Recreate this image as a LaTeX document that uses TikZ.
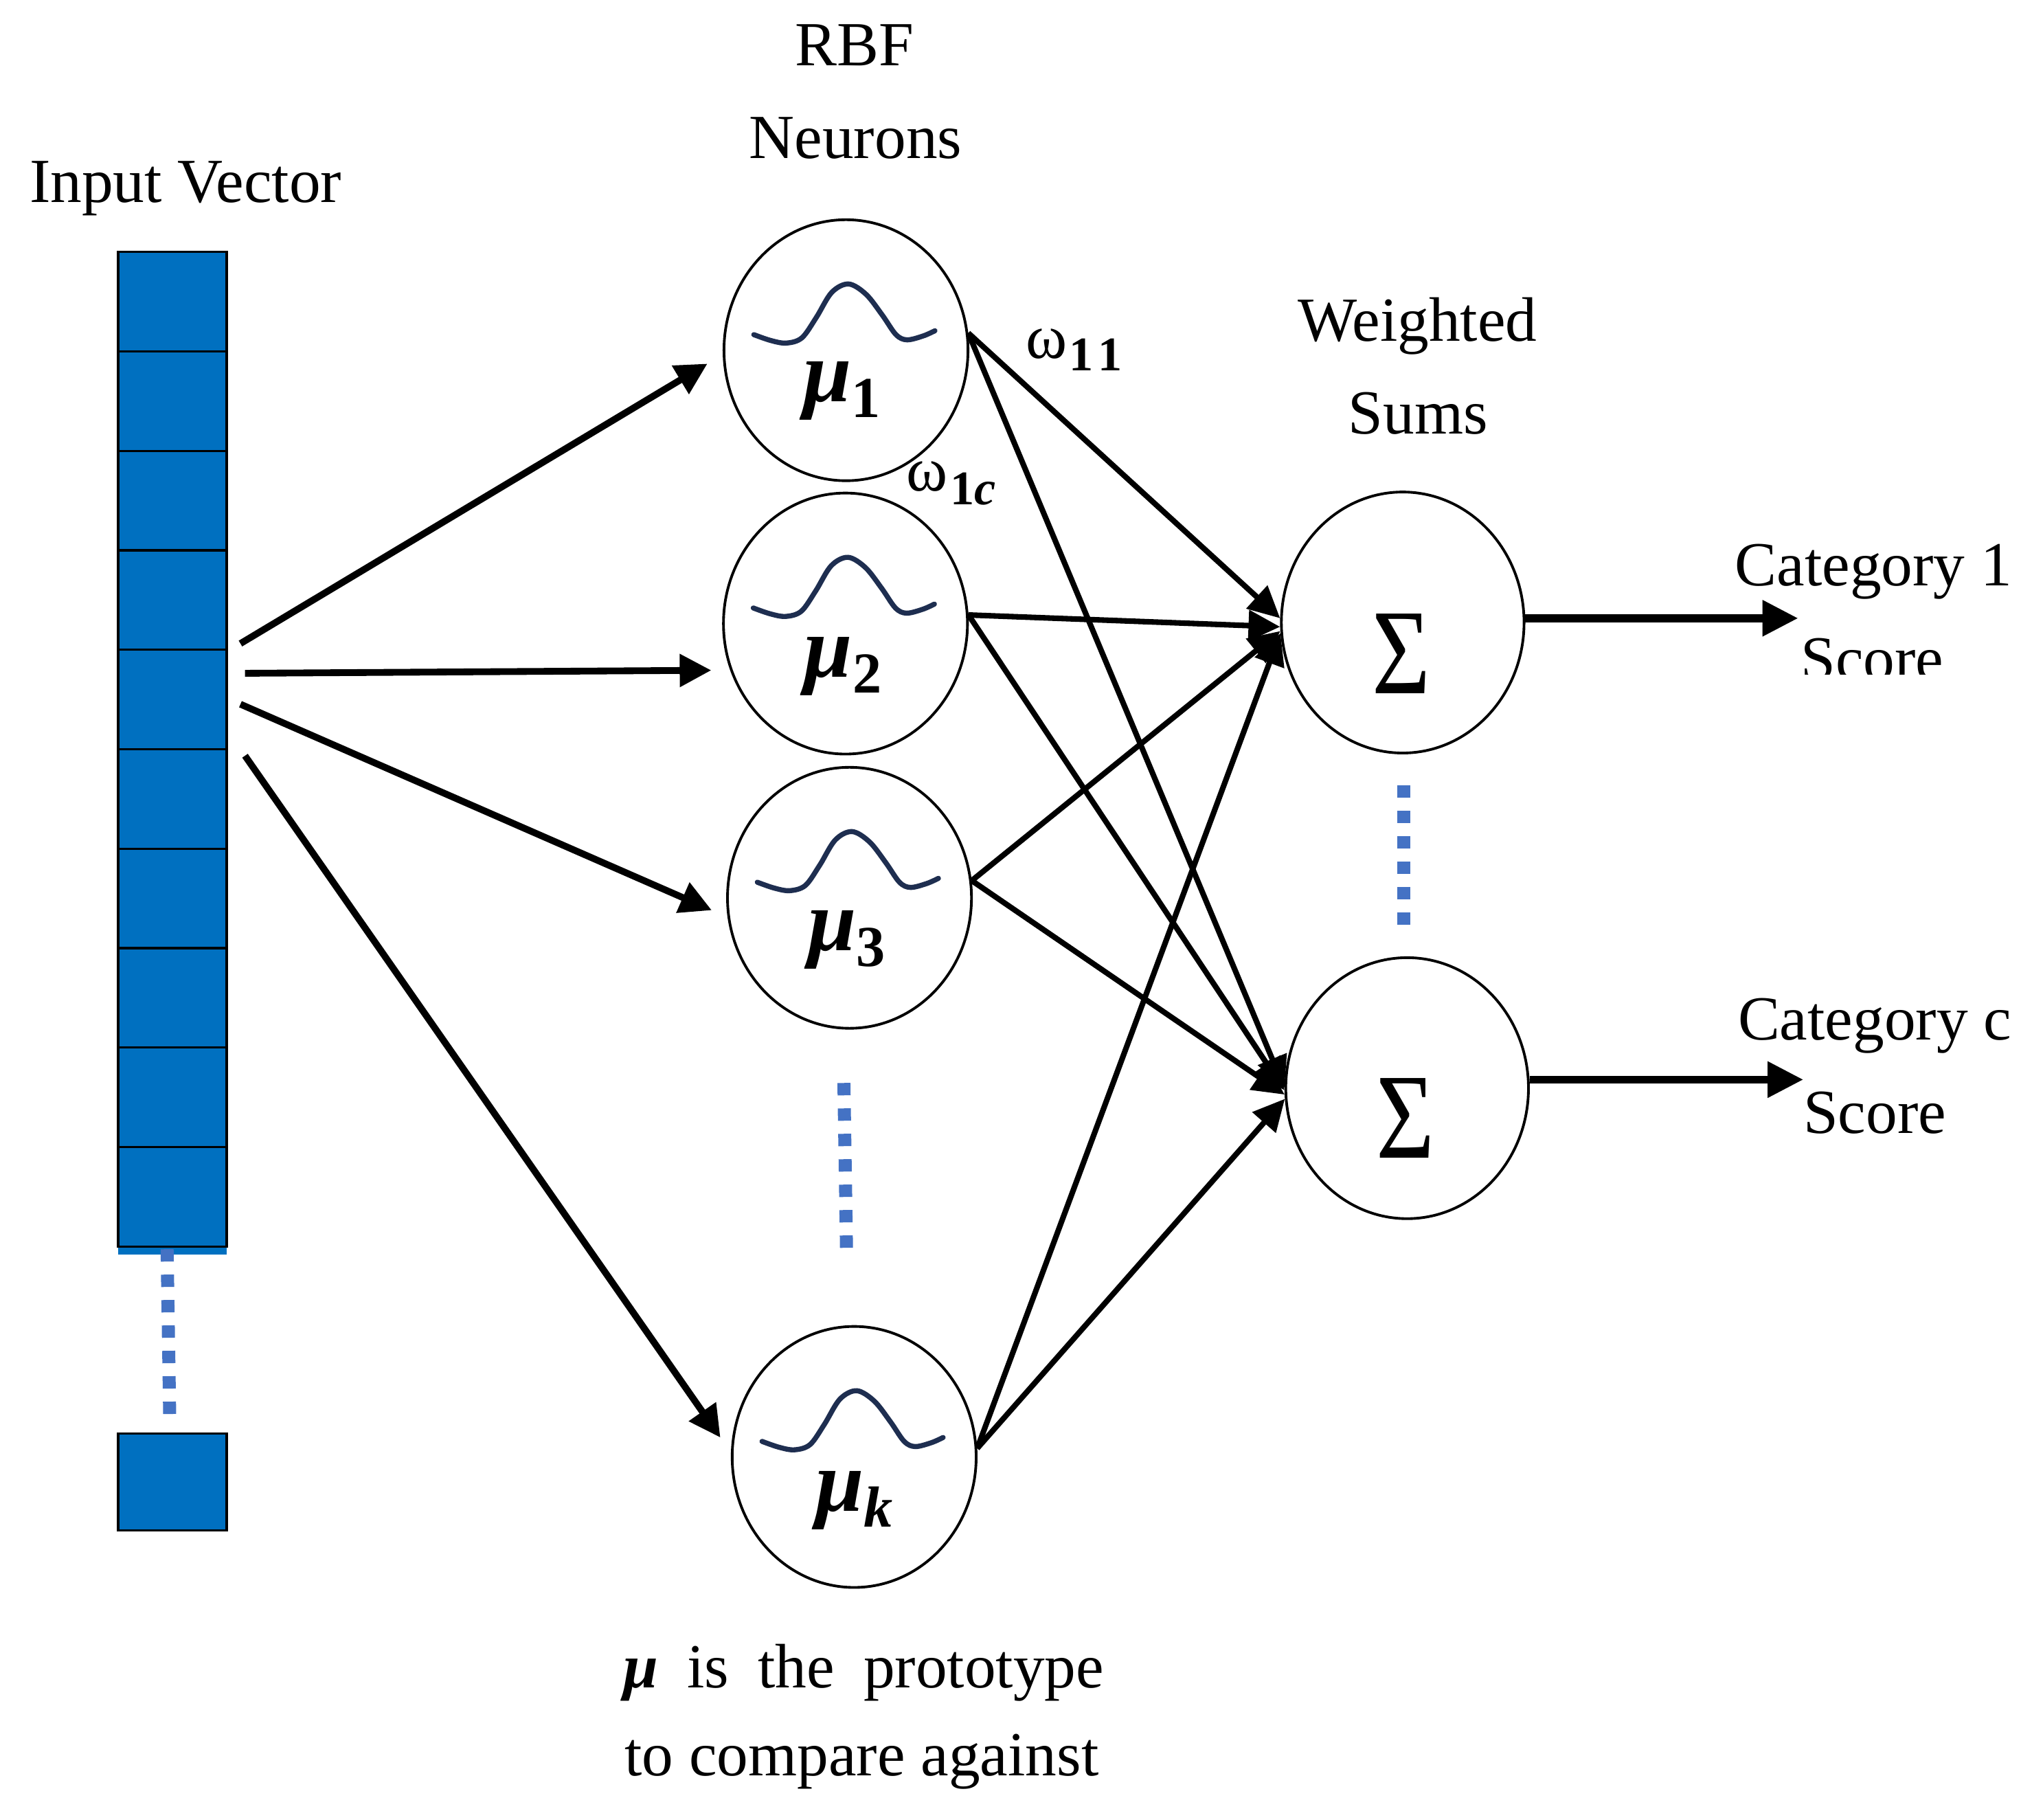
\documentclass[tikz,border=0pt]{standalone}
\usepackage{fontspec}
\setmainfont{Liberation Serif}
\usepackage{graphicx}
\usetikzlibrary{arrows.meta,shapes.geometric,calc}
\definecolor{cellblue}{HTML}{0070C0}
\definecolor{dotblue}{HTML}{4472C4}
\definecolor{gaussnavy}{RGB}{30,46,80}
\tikzset{
  txt/.style={font=\fontsize{26}{38}\selectfont, inner sep=0pt, align=center},
  cell/.style={rectangle, draw=black, fill=cellblue, line width=0.9pt, minimum width=1.58cm, minimum height=1.448cm, inner sep=0pt},
  rbf/.style={ellipse, draw=black, line width=1.1pt, minimum width=3.553cm, minimum height=3.80cm, inner sep=0pt},
  sumnode/.style={ellipse, draw=black, line width=1.1pt, minimum width=3.534cm, minimum height=3.80cm, inner sep=0pt},
  inarr/.style={line width=2.8pt, -{Triangle[length=0.46cm,width=0.46cm]}},
  warr/.style={line width=2.3pt, -{Triangle[length=0.46cm,width=0.44cm]}},
  outarr/.style={line width=3.3pt, -{Triangle[length=0.52cm,width=0.50cm]}},
  dots/.style={dotblue, line width=5.4pt, dash pattern=on 0.18cm off 0.19cm},
  gauss/.style={gaussnavy, line width=2.1pt, line cap=round},
  mulbl/.style={inner sep=0pt, anchor=base, font=\fontsize{36}{36}\selectfont\bfseries\itshape},
  sumsym/.style={inner sep=0pt, font=\fontsize{40}{40}\selectfont},
}
\newcommand{\gausscurve}[1]{%
  \draw[gauss, shift={(#1.center)}] plot[smooth, tension=0.55] coordinates
   {(-71,-12) (-58,-7.5) (-46,-5.5) (-34,-9.5) (-23,-25) (-11,-44.5) (2,-51) (15.5,-43) (28,-27) (38.5,-12) (47,-8) (59.5,-11) (68.5,-15)};}
\begin{document}
\begin{tikzpicture}[x=0.0189cm, y=-0.0189cm]
\useasboundingbox (0,0) rectangle (1565.1,1401.6);
\fill[white] (0,0) rectangle (1565.1,1401.6);

% titles
\node[txt, anchor=base] (tIn) at (142.9,155.9) {Input Vector};
\node[txt, anchor=base] (tRbf) at (658,50.6) {RBF};
\node[txt, anchor=base] (tNeu) at (659,122.2) {Neurons};
\node[txt, anchor=base] (tW) at (1091.8,262.5) {Weighted};
\node[txt, anchor=base] (tS) at (1092.3,334) {Sums};
\node[txt, anchor=base] (tC1) at (1443,451.3) {Category 1};
\begin{scope}
  \clip (1300,470) rectangle (1600,519.5);
  \node[txt, anchor=base] (tSc1) at (1442,523.4) {Score};
\end{scope}
\node[txt, anchor=base] (tCc) at (1444,800.7) {Category c};
\node[txt, anchor=base] (tScc) at (1444,872.5) {Score};
\node[txt, anchor=base] (note1) at (665.2,1299.5) {\makebox[7.0cm][s]{{\bfseries\itshape μ} is the prototype}};
\node[txt, anchor=base] (note2) at (663.7,1367.2) {to compare against};

% input vector
\fill[cellblue] (91,958) rectangle (174.6,966);
\foreach \i in {1,...,10} {
  \node[cell] (c\i) at (132.8,{194+76.6*(\i-0.5)}) {};
}
\node[cell, minimum height=1.416cm] (cl) at (132.8,1141.2) {};

% dotted ellipses
\coordinate (d1a) at (128.7,962);
\coordinate (d1b) at (130.7,1090);
\draw[dots] (d1a) -- (d1b);
\coordinate (d2a) at (650,834);
\coordinate (d2b) at (652,962);
\draw[dots] (d2a) -- (d2b);
\coordinate (d3a) at (1081,605);
\coordinate (d3b) at (1081,715);
\draw[dots] (d3a) -- (d3b);

% RBF neurons
\node[rbf] (r1) at (651.6,269.7) {};
\node[rbf] (r2) at (651.2,480.2) {};
\node[rbf] (r3) at (654.3,691.4) {};
\node[rbf] (rk) at (657.9,1122) {};
\gausscurve{r1}
\gausscurve{r2}
\gausscurve{r3}
\gausscurve{rk}
\node[mulbl] (m1) at ($(r1.center)+(-3,39.8)$) {μ\raisebox{-0.23cm}{\fontsize{24}{24}\selectfont\upshape 1}};
\node[mulbl] (m2) at ($(r2.center)+(-2,41)$) {μ\raisebox{-0.23cm}{\fontsize{24}{24}\selectfont\upshape 2}};
\node[mulbl] (m3) at ($(r3.center)+(-2,40.5)$) {μ\raisebox{-0.23cm}{\fontsize{24}{24}\selectfont\upshape 3}};
\node[mulbl] (mk) at ($(rk.center)+(0,41.8)$) {μ\raisebox{-0.23cm}{\fontsize{24}{24}\selectfont k}};

% sum nodes
\node[sumnode] (z1) at (1080.4,479.4) {};
\node[sumnode] (zc) at (1083.8,838) {};
\node[sumsym] (sig1) at ($(z1.center)+(-1,24.3)$) {\resizebox{0.85cm}{1.16cm}{Σ}};
\node[sumsym] (sigc) at ($(zc.center)+(-1.4,23.1)$) {\resizebox{0.85cm}{1.16cm}{Σ}};

% weight labels
\node[txt, anchor=base west] (w11) at (790,276) {ω\kern0.03cm\raisebox{-0.18cm}{\fontsize{20}{20}\selectfont\bfseries 1\kern0.06cm 1}};
\node[txt, anchor=base west] (w1c) at (698,378.3) {ω\kern0.03cm\raisebox{-0.2cm}{\fontsize{20}{20}\selectfont\bfseries 1\itshape c}};

% input arrows
\coordinate (s1) at (185.2,495.6);
\coordinate (s2) at (188.7,518.5);
\coordinate (s3) at (185.2,542.3);
\coordinate (s4) at (188.7,582);
\draw[inarr, shorten >=0.26cm] (s1) -- (r1.182);
\draw[inarr, shorten >=0.274cm] (s2) -- (r2.202);
\draw[inarr, shorten >=0.25cm] (s3) -- (r3.189);
\draw[inarr, shorten >=0.268cm] (s4) -- (rk.178);

% weighted connections
\draw[warr] (r1.8) -- (z1.178);
\draw[warr] (r1.8) -- (zc.180);
\draw[warr] (r2.4) -- (z1.182);
\draw[warr] (r2.4) -- (zc.181);
\draw[warr] (r3.8) -- (z1.184);
\draw[warr] (r3.8) -- (zc.183);
\draw[warr] (rk.4) -- (z1.185);
\draw[warr] (rk.4) -- (zc.185);

% outputs
\coordinate (o1) at (1385,476.2);
\coordinate (oc) at (1389,830.7);
\draw[outarr] (z1.2) -- (z1.2 -| o1);
\draw[outarr] (zc.4) -- (zc.4 -| oc);
\end{tikzpicture}
\end{document}
